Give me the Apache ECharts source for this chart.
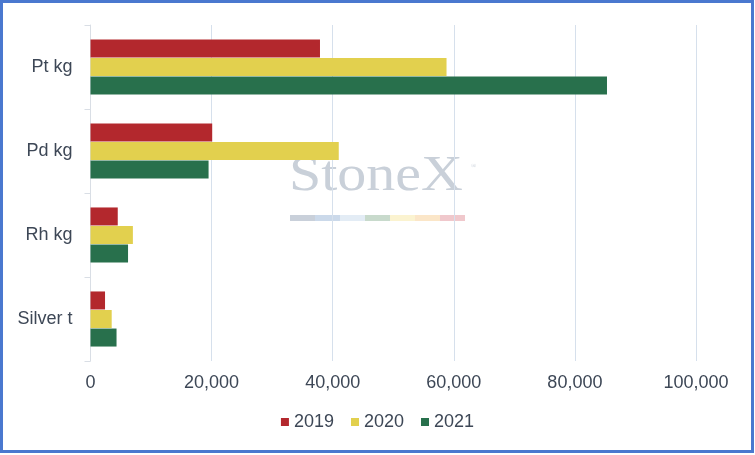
<!DOCTYPE html>
<html>
<head>
<meta charset="utf-8">
<script src="https://cdn.jsdelivr.net/npm/echarts@6/dist/echarts.min.js"></script>
<style>html,body{margin:0;padding:0;background:#fff;}#c{width:755px;height:455px;}</style>
</head>
<body>
<div id="c"></div>
<script>
const categories = ['Pt kg', 'Pd kg', 'Rh kg', 'Silver t'];
const years = ['2019', '2020', '2021'];
const values2019 = [37900, 20100, 4500, 2400];
const values2020 = [58800, 41000, 7000, 3500];
const values2021 = [85300, 19500, 6200, 4300];
const xTicks = [0, 20000, 40000, 60000, 80000, 100000];
const colors = ['#B3282D', '#E2D04E', '#28704C'];
const watermarkStrip = ['#C9D0DA', '#CBD9EA', '#E3ECF5', '#C8DACC', '#FBF3D0', '#FBE6C8', '#F0C8CC'];

const seriesData = [values2019, values2020, values2021];
const FONT = 'Liberation Sans, Arial, sans-serif';
const chart = echarts.init(document.getElementById('c'), null, {renderer: 'canvas'});
const stripEls = watermarkStrip.map((c, i) => ({
  type: 'rect', silent: true, z: -10,
  shape: {x: 290 + i * 25, y: 215, width: 25, height: 6},
  style: {fill: c}
}));
chart.setOption({
  animation: false,
  backgroundColor: '#fff',
  color: colors,
  grid: {left: 90.5, right: 59, top: 25, bottom: 94, containLabel: false},
  legend: {
    data: years, bottom: 19, left: 'center',
    itemWidth: 8, itemHeight: 8, itemGap: 17, icon: 'rect',
    textStyle: {fontSize: 18, color: '#3d4756', fontFamily: FONT}
  },
  xAxis: {
    type: 'value', min: 0, max: 100000, interval: 20000,
    axisLine: {show: false}, axisTick: {show: false},
    splitLine: {lineStyle: {color: '#D6E0EC', width: 1}},
    axisLabel: {
      fontSize: 18, color: '#3d4756', margin: 13, fontFamily: FONT,
      formatter: v => xTicks.includes(v) ? v.toLocaleString('en-US') : ''
    }
  },
  yAxis: {
    type: 'category', data: categories, inverse: true,
    axisLine: {lineStyle: {color: '#D9DEE5'}},
    axisTick: {show: true, length: 6, lineStyle: {color: '#D9DEE5'}},
    axisLabel: {fontSize: 18, color: '#3d4756', margin: 18, fontFamily: FONT}
  },
  graphic: [
    {type: 'text', silent: true, z: -10, x: 289, y: 151, scaleY: 0.88,
     style: {text: 'StoneX', font: '58px "Liberation Serif", "Times New Roman", serif', fill: '#C9D0D9'}},
    {type: 'text', silent: true, z: -10, x: 471, y: 163,
     style: {text: '®', font: '7px "Liberation Serif", serif', fill: '#C9D0D9'}},
    ...stripEls,
    {type: 'rect', silent: true, z: 100,
     shape: {x: 1.5, y: 1.5, width: 751, height: 450},
     style: {fill: 'none', stroke: '#4A78CF', lineWidth: 3}}
  ],
  series: years.map((y, i) => ({
    name: y, type: 'bar', data: seriesData[i],
    barWidth: 18, barGap: '3%',
    itemStyle: {color: colors[i]}
  }))
});
</script>
</body>
</html>
